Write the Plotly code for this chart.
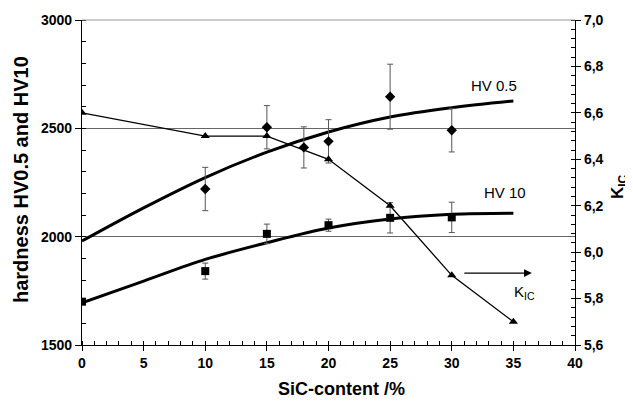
import plotly.graph_objects as go

# --- data ---
sic_pts = [10, 15, 18, 20, 25, 30]
hv05_pts = [2220, 2505, 2412, 2440, 2646, 2491]
hv05_err = [100, 100, 95, 100, 150, 100]

sic_hv10 = [0, 10, 15, 20, 25, 30]
hv10_pts = [1700, 1841, 2013, 2053, 2087, 2089]
hv10_err = [0, 37, 45, 28, 70, 70]

fit_x = [0, 5, 10, 15, 20, 25, 30, 35]
hv05_fit = [1980, 2133, 2273, 2390, 2483, 2552, 2595, 2626]
hv10_fit = [1695, 1795, 1895, 1972, 2040, 2082, 2103, 2108]

kic_x = [0, 10, 15, 20, 25, 30, 35]
kic_y = [6.6, 6.5, 6.5, 6.4, 6.2, 5.9, 5.7]

left_ticks = [1500, 2000, 2500, 3000]
x_ticks = [0, 5, 10, 15, 20, 25, 30, 35, 40]
right_ticks = [5.6, 5.8, 6.0, 6.2, 6.4, 6.6, 6.8, 7.0]
right_ticktext = ["5,6", "5,8", "6,0", "6,2", "6,4", "6,6", "6,8", "7,0"]

FONT = "Liberation Sans, Arial, sans-serif"
ERRC = "#555555"

# the page body adds an 8px offset; plot area target (page px): x 82..575, y 19.5..345.5
OFF = 8
PX0, PX1, PY0, PY1 = 82, 575, 19.5, 345.5
W, H = 633 - OFF, 401 - OFF
ML, MR, MT, MB = PX0 - OFF, 633 - PX1, PY0 - OFF, 401 - PY1


def px(xp):
    return (xp - PX0) / (PX1 - PX0)


def py(yp):
    return (PY1 - yp) / (PY1 - PY0)


fig = go.Figure()

fig.add_trace(go.Scatter(x=fit_x, y=hv05_fit, mode="lines", line=dict(color="black", width=3, shape="spline"),
                         showlegend=False, hoverinfo="skip"))
fig.add_trace(go.Scatter(x=fit_x, y=hv10_fit, mode="lines", line=dict(color="black", width=3, shape="spline"),
                         showlegend=False, hoverinfo="skip"))

fig.add_trace(go.Scatter(x=sic_pts, y=hv05_pts, mode="markers",
                         marker=dict(symbol="diamond", size=8, color="black"),
                         error_y=dict(type="data", array=hv05_err, color=ERRC, thickness=1, width=3),
                         showlegend=False))
fig.add_trace(go.Scatter(x=sic_hv10, y=hv10_pts, mode="markers",
                         marker=dict(symbol="square", size=8, color="black"),
                         error_y=dict(type="data", array=hv10_err, color=ERRC, thickness=1, width=3),
                         showlegend=False))

fig.add_trace(go.Scatter(x=kic_x, y=kic_y, mode="lines+markers", yaxis="y2",
                         line=dict(color="black", width=1.3),
                         marker=dict(symbol="triangle-up", size=8, color="black"),
                         showlegend=False))

tickfont = dict(size=14, family=FONT, weight="bold", color="black")

fig.update_layout(
    width=W, height=H,
    margin=dict(l=ML, r=MR, t=MT, b=MB, autoexpand=False),
    paper_bgcolor="white", plot_bgcolor="white",
    font=dict(family=FONT, color="black"),
    xaxis=dict(range=[0, 40], tickvals=x_ticks, showgrid=False, zeroline=False, automargin=False,
               showline=True, linecolor="black", linewidth=1.3,
               ticks="outside", ticklen=5, tickcolor="black",
               minor=dict(dtick=1, ticks="inside", ticklen=4, tickcolor="black", showgrid=False),
               tickfont=tickfont),
    yaxis=dict(range=[1500, 3000], tickvals=left_ticks, showgrid=True, gridcolor="#666666", gridwidth=1.2,
               zeroline=False, showline=True, linecolor="black", linewidth=1.3, automargin=False,
               ticks="outside", ticklen=6, tickcolor="black",
               minor=dict(dtick=100, ticks="inside", ticklen=4, tickcolor="black", showgrid=False),
               tickfont=tickfont),
    yaxis2=dict(range=[5.6, 7.0], overlaying="y", side="right", tickvals=right_ticks, ticktext=right_ticktext,
                showgrid=False, zeroline=False, showline=True, linecolor="black", linewidth=1.3,
                automargin=False,
                ticks="outside", ticklen=5, tickcolor="black",
                minor=dict(dtick=0.04, ticks="inside", ticklen=4, tickcolor="black", showgrid=False),
                tickfont=tickfont),
    shapes=[dict(type="line", xref="paper", yref="paper", x0=0, x1=1, y0=1, y1=1,
                 line=dict(color="#999999", width=1.2))],
    annotations=[
        # axis titles
        dict(x=px(341), y=py(390), xref="paper", yref="paper",
             text="<b>SiC-content /%</b>", showarrow=False, font=dict(size=18), xanchor="center", yanchor="middle"),
        dict(x=px(21), y=py(180), xref="paper", yref="paper",
             text="<b>hardness HV0.5 and HV10</b>", showarrow=False, font=dict(size=20), textangle=-90,
             xanchor="center", yanchor="middle"),
        dict(x=px(619), y=py(187), xref="paper", yref="paper",
             text="<b>K<sub>IC</sub></b>", showarrow=False, font=dict(size=17), textangle=-90,
             xanchor="center", yanchor="middle"),
        # curve labels
        dict(x=33.4, y=2699, xref="x", yref="y", text="HV 0.5", showarrow=False,
             font=dict(size=15), xanchor="center", yanchor="middle"),
        dict(x=34.3, y=2202, xref="x", yref="y", text="HV 10", showarrow=False,
             font=dict(size=15), xanchor="center", yanchor="middle"),
        dict(x=35.9, y=1742, xref="x", yref="y", text="K<sub>IC</sub>", showarrow=False,
             font=dict(size=15), xanchor="center", yanchor="middle"),
        dict(x=36.5, y=5.91, xref="x", yref="y2", ax=30.9, ay=5.91, axref="x", ayref="y2",
             text="", showarrow=True, arrowhead=2, arrowsize=1.2, arrowwidth=1.3, arrowcolor="black"),
    ],
)

fig.write_html("out.html")
